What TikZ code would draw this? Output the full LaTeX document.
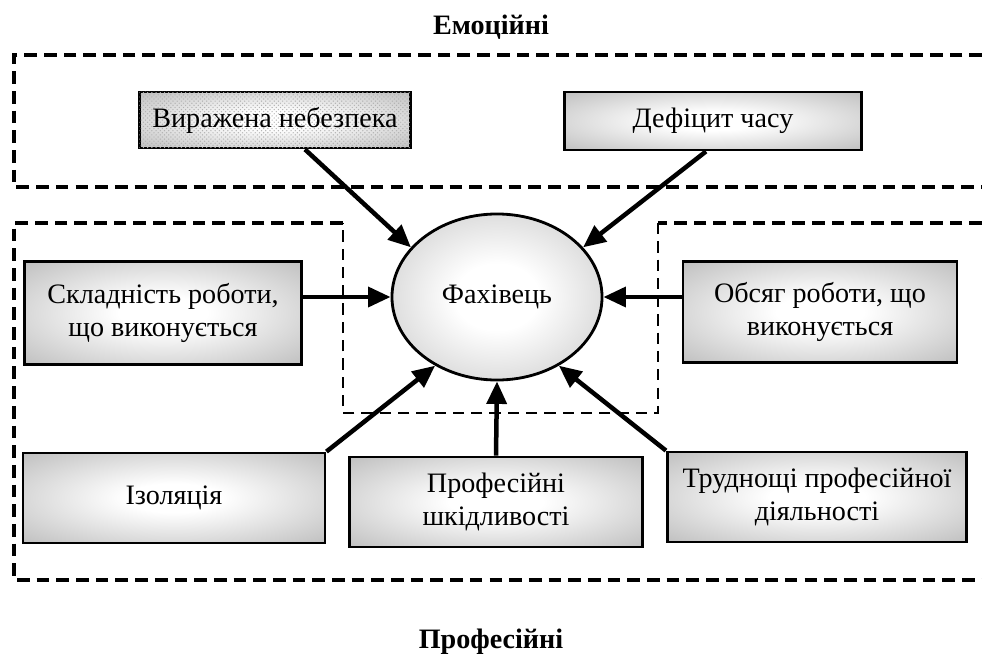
\documentclass[tikz,border=0pt]{standalone}
\usepackage{fontspec}
\setmainfont{Liberation Serif}
\usetikzlibrary{arrows.meta,shapes.geometric,calc,patterns}

\pgfdeclareradialshading{boxglow}{\pgfpoint{0bp}{0bp}}{color(0bp)=(white); color(8bp)=(white); color(50bp)=(black!38); color(72bp)=(black!44)}
\pgfdeclareradialshading{ovalglow}{\pgfpoint{0bp}{0bp}}{color(0bp)=(white); color(10bp)=(white); color(50bp)=(black!34); color(72bp)=(black!34)}

\tikzset{
  factor/.style={draw, line width=2pt, shading=boxglow, inner sep=0pt, align=center,
    font=\fontsize{20}{23}\selectfont},
  push/.style={line width=3.2pt, -{Triangle[length=16pt,width=14pt]}},
  zone/.style={line width=2.6pt, dash pattern=on 9pt off 5pt},
  core/.style={line width=1.2pt, dash pattern=on 8pt off 5pt},
  caption/.style={font=\bfseries\fontsize{20}{23}\selectfont}
}

\begin{document}
\begin{tikzpicture}[x=0.025cm, y=-0.025cm]
    \useasboundingbox (0,0) rectangle (982,658);

    % Draw group frames
    \draw [zone] (982,55) -- (14,55) -- (14,187) -- (982,187);
    \draw [zone] (982,223) -- (658,223) (343,223) -- (14,223) -- (14,580) -- (982,580);
    \draw [core] (658,223) -- (658,413) -- (343,413) -- (343,223);

    \node [caption] (emo) at (491,27) {Емоційні};
    \node [caption] (prf) at (491,642) {Професійні};

    % Draw central node
    \node [draw, ellipse, line width=2pt, shading=ovalglow, minimum width=5.25cm,
      minimum height=4.15cm, font=\fontsize{20}{23}\selectfont] (fach) at (497,297) {Фахівець};

    % Draw factors
    \node [factor, minimum width=6.78cm, minimum height=1.4cm,
      postaction={pattern=crosshatch dots, pattern color=black!30}] (vyr) at (275,120) {Виражена небезпека};
    \node [factor, minimum width=7.43cm, minimum height=1.45cm] (def) at (713,121) {Дефіцит часу};
    \node [factor, minimum width=6.93cm, minimum height=2.58cm] (skl) at (163,313) {Складність роботи,\\що виконується};
    \node [factor, minimum width=6.85cm, minimum height=2.53cm] (obs) at (820,312) {Обсяг роботи, що\\виконується};
    \node [factor, minimum width=7.55cm, minimum height=2.25cm] (izo) at (174,498) {Ізоляція};
    \node [factor, minimum width=7.33cm, minimum height=2.25cm] (shk) at (496,502) {Професійні\\шкідливості};
    \node [factor, minimum width=7.48cm, minimum height=2.25cm] (tru) at (817,497) {Труднощі професійної\\діяльності};

    % Draw influences
    \draw [push] ($(vyr.south)+(30,0)$) -- (fach.150);
    \draw [push] ($(def.south)+(-7,0)$) -- (fach.30);
    \draw [push] (skl.east |- fach) -- (fach.west);
    \draw [push] (obs.west |- fach) -- (fach.east);
    \draw [push] (izo.north east) -- (fach.228);
    \draw [push] (shk.north) -- (fach.south);
    \draw [push] (tru.north west) -- (fach.312);
\end{tikzpicture}
\end{document}
